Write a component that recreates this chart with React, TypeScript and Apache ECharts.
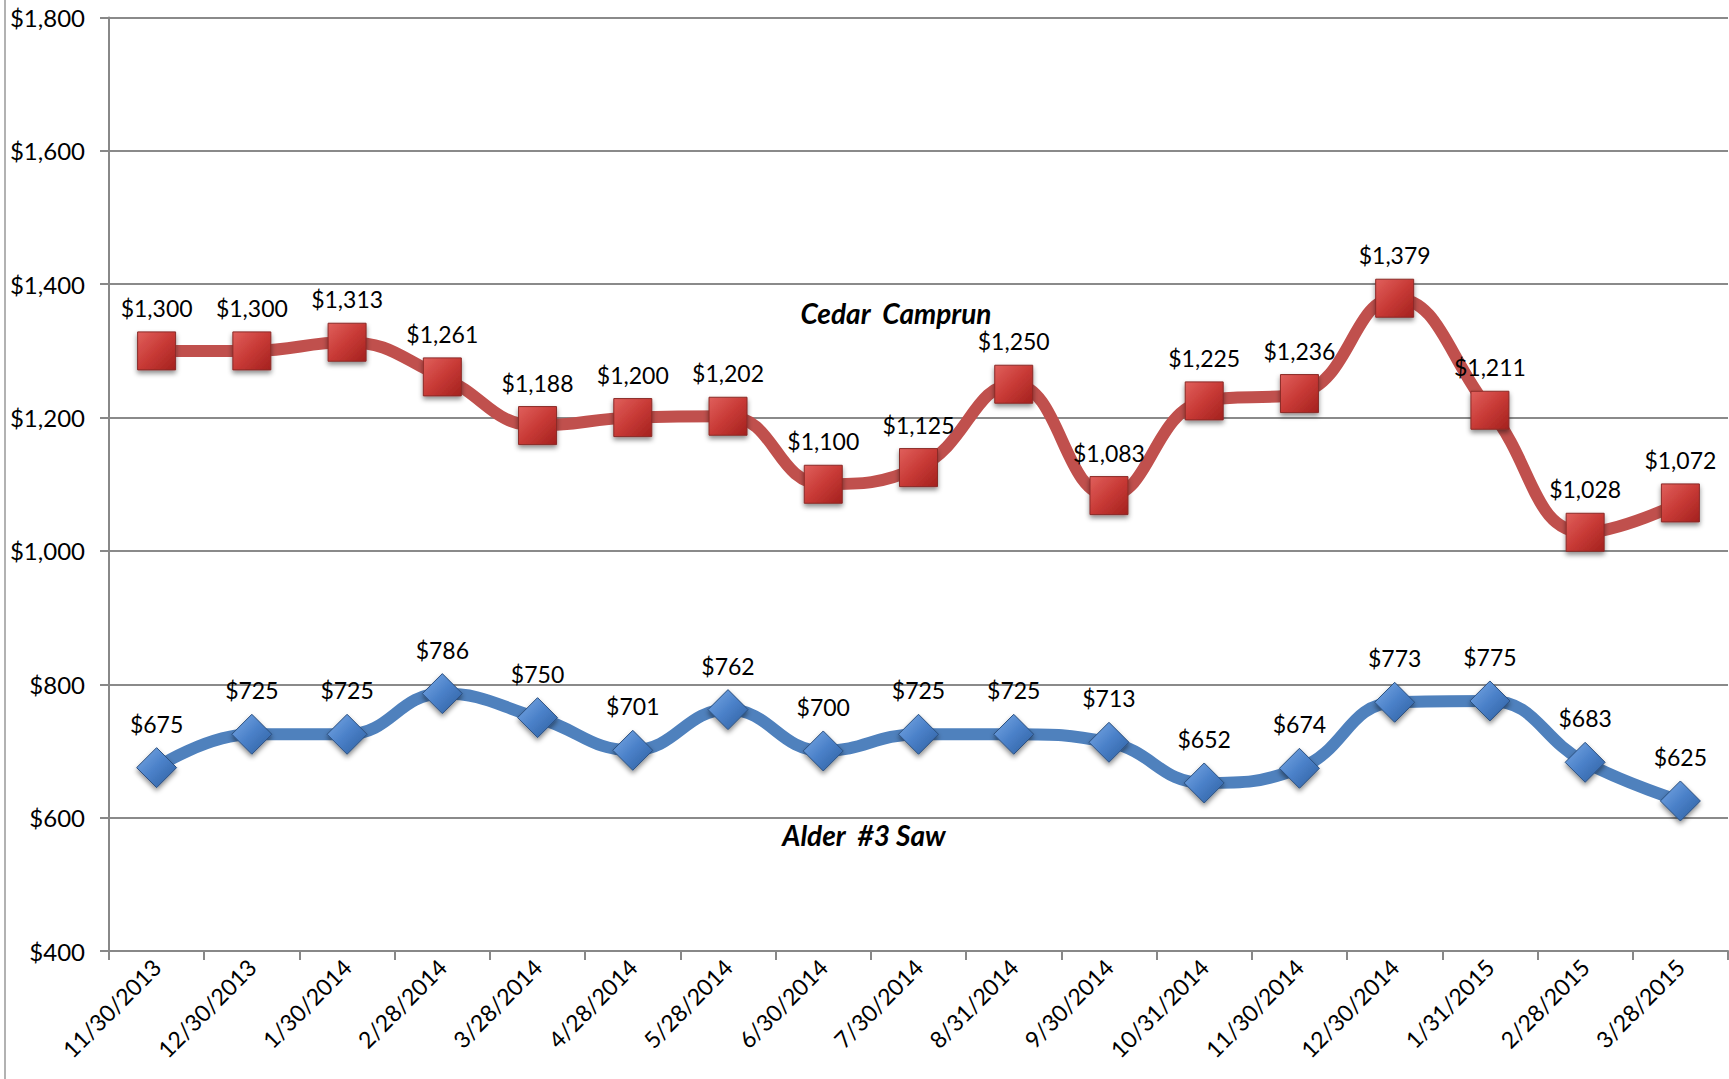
import React, { useEffect, useRef } from "react";
import * as echarts from "echarts";

const categories = [
  "11/30/2013", "12/30/2013", "1/30/2014", "2/28/2014", "3/28/2014", "4/28/2014",
  "5/28/2014", "6/30/2014", "7/30/2014", "8/31/2014", "9/30/2014", "10/31/2014",
  "11/30/2014", "12/30/2014", "1/31/2015", "2/28/2015", "3/28/2015",
];
const cedarValues = [1300, 1300, 1313, 1261, 1188, 1200, 1202, 1100, 1125, 1250, 1083, 1225, 1236, 1379, 1211, 1028, 1072];
const alderValues = [675, 725, 725, 786, 750, 701, 762, 700, 725, 725, 713, 652, 674, 773, 775, 683, 625];
const cedarName = "Cedar  Camprun";
const alderName = "Alder  #3 Saw";
const yMin = 400;
const yMax = 1800;
const yStep = 200;

const FONT = "Lato, 'Open Sans', sans-serif";

const money = (v: number) => "$" + Math.round(v).toString().replace(/\B(?=(\d{3})+(?!\d))/g, ",");

export default function App() {
  const ref = useRef<HTMLDivElement>(null);
  useEffect(() => {
    if (!ref.current) return;
    const chart = echarts.init(ref.current, undefined, { renderer: "svg" });
    const labelStyle = {
      show: true,
      position: "top" as const,
      distance: 12,
      color: "#000",
      fontSize: 23,
      fontFamily: FONT,
      formatter: (p: any) => money(p.value),
    };
    const nameStyle = {
      fontSize: 28,
      fontWeight: "bold",
      fontStyle: "italic",
      fontFamily: FONT,
      fill: "#000",
      align: "center",
      verticalAlign: "middle",
    };
    chart.setOption({
      animation: false,
      backgroundColor: "#fff",
      grid: { left: 109, right: 1, top: 17.5, bottom: 128, containLabel: false },
      xAxis: {
        type: "category",
        data: categories,
        boundaryGap: true,
        axisLine: { lineStyle: { color: "#888", width: 2 } },
        axisTick: { show: true, length: 9, lineStyle: { color: "#888", width: 2 } },
        axisLabel: {
          rotate: 45,
          fontSize: 23,
          fontFamily: FONT,
          color: "#000",
          margin: 12,
          interval: 0,
        },
      },
      yAxis: {
        type: "value",
        min: yMin,
        max: yMax,
        interval: yStep,
        axisLine: { show: true, lineStyle: { color: "#888", width: 2 } },
        axisTick: { show: true, length: 9, lineStyle: { color: "#888", width: 2 } },
        splitLine: { lineStyle: { color: "#8a8a8a", width: 2 } },
        axisLabel: {
          fontSize: 24,
          fontFamily: FONT,
          color: "#000",
          margin: 24,
          formatter: (v: number) => money(v),
        },
      },
      series: [
        {
          name: cedarName,
          type: "line",
          data: cedarValues,
          smooth: 0.45,
          symbol: "rect",
          symbolSize: 38,
          lineStyle: { color: "#C0504D", width: 12 },
          itemStyle: {
            color: new echarts.graphic.LinearGradient(0, 0, 1, 1, [
              { offset: 0, color: "#e0605c" },
              { offset: 0.5, color: "#c83a36" },
              { offset: 1, color: "#a3211e" },
            ]),
            borderColor: "#8a2a27",
            borderWidth: 1,
            shadowColor: "rgba(0,0,0,0.45)",
            shadowBlur: 5,
            shadowOffsetY: 3,
          },
          label: labelStyle,
          z: 3,
        },
        {
          name: alderName,
          type: "line",
          data: alderValues,
          smooth: 0.45,
          symbol: "diamond",
          symbolSize: [40, 40],
          lineStyle: { color: "#4F81BD", width: 12 },
          itemStyle: {
            color: new echarts.graphic.LinearGradient(0, 0, 1, 1, [
              { offset: 0, color: "#7aaae6" },
              { offset: 0.5, color: "#4a80c8" },
              { offset: 1, color: "#2d5e9e" },
            ]),
            borderColor: "#2b4f7e",
            borderWidth: 1,
            shadowColor: "rgba(0,0,0,0.45)",
            shadowBlur: 5,
            shadowOffsetY: 3,
          },
          label: labelStyle,
          z: 3,
        },
      ],
      graphic: [
        {
          type: "line",
          shape: { x1: 5, y1: 0, x2: 5, y2: 1079 },
          style: { stroke: "#999", lineWidth: 1.5 },
        },
        {
          type: "text",
          x: 896,
          y: 313,
          style: { ...nameStyle, text: cedarName },
        },
        {
          type: "text",
          x: 864,
          y: 835,
          style: { ...nameStyle, text: alderName },
        },
      ],
    });
    return () => chart.dispose();
  }, []);
  return (
    <div
      ref={ref}
      style={{ position: "fixed", left: 0, top: 0, width: 1729, height: 1079 }}
    />
  );
}
